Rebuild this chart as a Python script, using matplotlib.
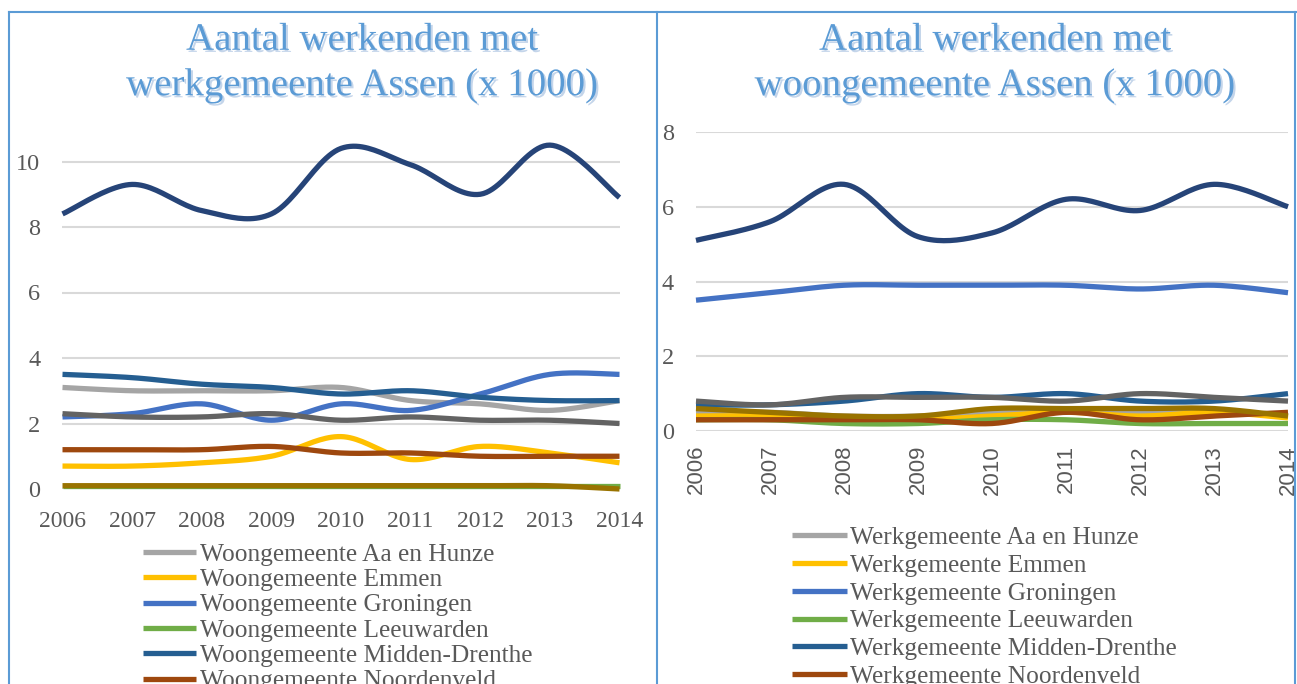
import numpy as np
import matplotlib
matplotlib.use("Agg")
import matplotlib.pyplot as plt
import matplotlib.patheffects as pe
from matplotlib.lines import Line2D

years = [2006, 2007, 2008, 2009, 2010, 2011, 2012, 2013, 2014]

gemeenten = ["Aa en Hunze", "Emmen", "Groningen", "Leeuwarden", "Midden-Drenthe",
             "Noordenveld", "Tynaarlo", "Westerveld", "Assen"]
colors = ["#A5A5A5", "#FFC000", "#4472C4", "#70AD47", "#255E91",
          "#9E480E", "#636363", "#997300", "#264478"]

# links: werkgemeente Assen, per woongemeente (x 1000)
woon_aa = [3.1, 3.0, 3.0, 3.0, 3.1, 2.7, 2.6, 2.4, 2.7]
woon_emmen = [0.7, 0.7, 0.8, 1.0, 1.6, 0.9, 1.3, 1.1, 0.8]
woon_groningen = [2.2, 2.3, 2.6, 2.1, 2.6, 2.4, 2.9, 3.5, 3.5]
woon_leeuwarden = [0.1, 0.1, 0.1, 0.1, 0.1, 0.1, 0.1, 0.1, 0.1]
woon_midden = [3.5, 3.4, 3.2, 3.1, 2.9, 3.0, 2.8, 2.7, 2.7]
woon_noordenveld = [1.2, 1.2, 1.2, 1.3, 1.1, 1.1, 1.0, 1.0, 1.0]
woon_tynaarlo = [2.3, 2.2, 2.2, 2.3, 2.1, 2.2, 2.1, 2.1, 2.0]
woon_westerveld = [0.1, 0.1, 0.1, 0.1, 0.1, 0.1, 0.1, 0.1, 0.0]
woon_assen = [8.4, 9.3, 8.5, 8.4, 10.4, 9.9, 9.0, 10.5, 8.9]

# rechts: woongemeente Assen, per werkgemeente (x 1000)
werk_aa = [0.5, 0.5, 0.4, 0.4, 0.5, 0.5, 0.5, 0.5, 0.4]
werk_emmen = [0.4, 0.4, 0.3, 0.3, 0.4, 0.5, 0.4, 0.5, 0.35]
werk_groningen = [3.5, 3.7, 3.9, 3.9, 3.9, 3.9, 3.8, 3.9, 3.7]
werk_leeuwarden = [0.3, 0.3, 0.2, 0.2, 0.3, 0.3, 0.2, 0.2, 0.2]
werk_midden = [0.7, 0.7, 0.8, 1.0, 0.9, 1.0, 0.8, 0.8, 1.0]
werk_noordenveld = [0.3, 0.3, 0.3, 0.3, 0.2, 0.5, 0.3, 0.4, 0.5]
werk_tynaarlo = [0.8, 0.7, 0.9, 0.9, 0.9, 0.8, 1.0, 0.9, 0.8]
werk_westerveld = [0.6, 0.5, 0.4, 0.4, 0.6, 0.6, 0.6, 0.6, 0.4]
werk_assen = [5.1, 5.6, 6.6, 5.2, 5.3, 6.2, 5.9, 6.6, 6.0]

left_series = [woon_aa, woon_emmen, woon_groningen, woon_leeuwarden, woon_midden,
               woon_noordenveld, woon_tynaarlo, woon_westerveld, woon_assen]
right_series = [werk_aa, werk_emmen, werk_groningen, werk_leeuwarden, werk_midden,
                werk_noordenveld, werk_tynaarlo, werk_westerveld, werk_assen]

SERIF = ["Liberation Serif", "DejaVu Serif"]
GREY_TEXT = "#595959"
TITLE_BLUE = "#5B9BD5"
W, H = 1297, 684


def smooth(xs, ys, n=24):
    # Excel-achtige gladde lijn (Catmull-Rom als Bezier)
    p = np.column_stack([xs, ys]).astype(float)
    p = np.vstack([p[0], p, p[-1]])
    out = []
    t = np.linspace(0, 1, n)[:, None]
    for i in range(1, len(p) - 2):
        p0, p1, p2, p3 = p[i - 1], p[i], p[i + 1], p[i + 2]
        c1 = p1 + (p2 - p0) / 6
        c2 = p2 - (p3 - p1) / 6
        seg = ((1 - t) ** 3) * p1 + 3 * ((1 - t) ** 2) * t * c1 + 3 * (1 - t) * t ** 2 * c2 + t ** 3 * p2
        out.append(seg if i == 1 else seg[1:])
    out = np.vstack(out)
    return out[:, 0], out[:, 1]


def fx(px):
    return px / W


def fy(py):
    return 1 - py / H


def draw_panel(ax, series, prefix, ylim, yticks):
    handles = []
    for name, col, vals in zip(gemeenten, colors, series):
        sx, sy = smooth(years, vals)
        ln, = ax.plot(sx, sy, color=col, lw=3.8, solid_capstyle="butt",
                      clip_on=False, label=f"{prefix} {name}")
        handles.append(ln)
    ax.set_xlim(2006, 2014)
    ax.set_ylim(*ylim)
    ax.set_yticks(yticks)
    ax.set_xticks(years)
    ax.grid(axis="y", color="#D9D9D9", lw=1.5)
    ax.set_axisbelow(True)
    for s in ax.spines.values():
        s.set_visible(False)
    ax.tick_params(length=0, colors=GREY_TEXT)
    for lab in ax.get_yticklabels():
        lab.set_family(SERIF)
        lab.set_fontsize(17.5)
    return handles


fig = plt.figure(figsize=(W / 100, H / 100), dpi=100)

# linker grafiek
ax1 = fig.add_axes([fx(62.5), fy(489), fx(619.5) - fx(62.5), fy(128.75) - fy(489)])
h1 = draw_panel(ax1, left_series, "Woongemeente", (0, 11), [0, 2, 4, 6, 8, 10])
ax1.tick_params(axis="y", pad=16)
ax1.tick_params(axis="x", pad=16)
for lab in ax1.get_xticklabels():
    lab.set_family(SERIF)
    lab.set_fontsize(17)

# rechter grafiek
ax2 = fig.add_axes([fx(696), fy(431), fx(1288) - fx(696), fy(132) - fy(431)])
h2 = draw_panel(ax2, right_series, "Werkgemeente", (0, 8), [0, 2, 4, 6, 8])
ax2.tick_params(axis="y", pad=16)
ax2.tick_params(axis="x", pad=10)
for lab in ax2.get_xticklabels():
    lab.set_family(["Liberation Sans", "DejaVu Sans"])
    lab.set_fontsize(16)
    lab.set_rotation(90)

# titels
shadow = [pe.withSimplePatchShadow(offset=(1.5, -1.5), shadow_rgbFace="#9DB9DC", alpha=0.6)]
fig.text(fx(362), fy(63), "Aantal werkenden met\nwerkgemeente Assen (x 1000)",
         ha="center", va="center", fontsize=28, color=TITLE_BLUE, family=SERIF,
         linespacing=1.3, path_effects=shadow)
fig.text(fx(995), fy(63), "Aantal werkenden met\nwoongemeente Assen (x 1000)",
         ha="center", va="center", fontsize=28, color=TITLE_BLUE, family=SERIF,
         linespacing=1.3, path_effects=shadow)

# legenda's
fig.legend(handles=h1, loc="upper left", bbox_to_anchor=(fx(143), fy(543)),
           frameon=False, prop={"family": SERIF, "size": 18.3}, labelcolor=GREY_TEXT,
           handlelength=2.1, handletextpad=0.15, labelspacing=0.1,
           borderpad=0, borderaxespad=0)
fig.legend(handles=h2, loc="upper left", bbox_to_anchor=(fx(792), fy(526)),
           frameon=False, prop={"family": SERIF, "size": 18.3}, labelcolor=GREY_TEXT,
           handlelength=2.15, handletextpad=0.15, labelspacing=0.2,
           borderpad=0, borderaxespad=0)

# kaders
frame = dict(color=TITLE_BLUE, lw=1.5, transform=fig.transFigure)
fig.add_artist(Line2D([fx(9), fx(1297)], [fy(12), fy(12)], **frame))
fig.add_artist(Line2D([fx(9), fx(9)], [fy(12), 0], **frame))
fig.add_artist(Line2D([fx(657), fx(657)], [fy(12), 0], **frame))
fig.add_artist(Line2D([fx(1295), fx(1295)], [fy(12), 0], **frame))

fig.savefig("out.png", dpi=100)
